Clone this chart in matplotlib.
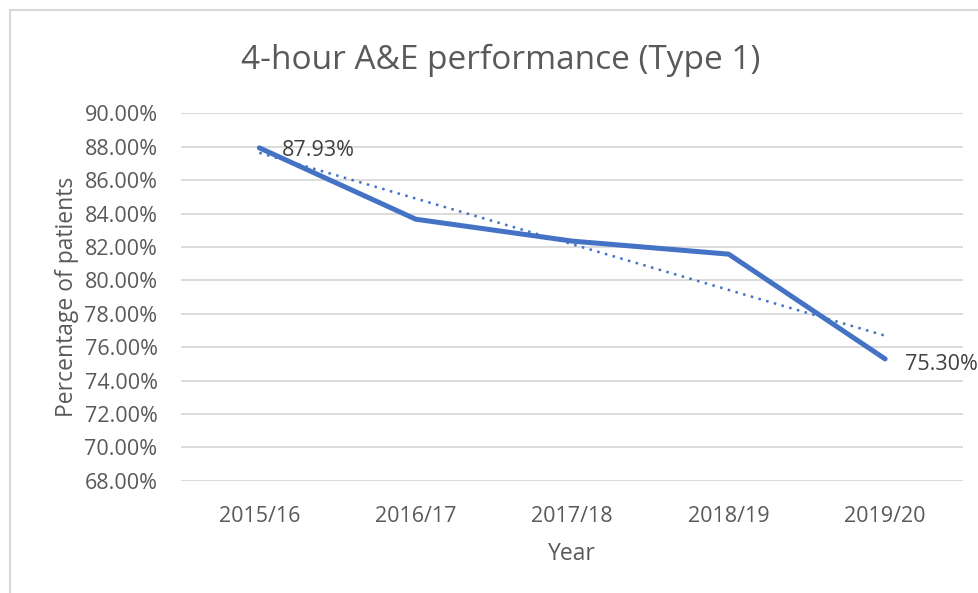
import numpy as np
import matplotlib
matplotlib.use("Agg")
import matplotlib.pyplot as plt
from matplotlib.patches import Rectangle
from matplotlib.ticker import PercentFormatter

# data
years = ["2015/16", "2016/17", "2017/18", "2018/19", "2019/20"]
performance = [87.93, 83.66, 82.35, 81.57, 75.30]
yticks = [68, 70, 72, 74, 76, 78, 80, 82, 84, 86, 88, 90]

blue = "#4472C4"
grey_txt = "#595959"
grid_col = "#D9D9D9"

plt.rcParams['font.family'] = ['Open Sans', 'DejaVu Sans']

fig = plt.figure(figsize=(9.79, 5.93), dpi=100)
ax = fig.add_axes([0.185, 0.189, 0.799, 0.620])

# chart border (cropped on right/bottom like the screenshot)
fig.patches.append(Rectangle((10/979, -0.05), 1.2, 1 - 10/593 + 0.05,
                             transform=fig.transFigure, fill=False,
                             edgecolor=grid_col, linewidth=1.5))

x = np.arange(len(years))
ax.plot(x, performance, color=blue, linewidth=3.6, solid_capstyle='round',
        solid_joinstyle='round', zorder=3)

# linear trendline
coef = np.polyfit(x, performance, 1)
ax.plot(x, np.polyval(coef, x), color=blue, linewidth=1.8,
        linestyle=(0, (1, 2.2)), zorder=2)

ax.annotate(f"{performance[0]:.2f}%", (x[0], performance[0]), xytext=(16, -2),
            textcoords="offset points", ha="left", va="center",
            fontsize=15.5, color="#404040")
ax.annotate(f"{performance[-1]:.2f}%", (x[-1], performance[-1]), xytext=(14, -4),
            textcoords="offset points", ha="left", va="center",
            fontsize=15.5, color="#404040", annotation_clip=False)

ax.set_xlim(-0.5, len(years) - 0.5)
ax.set_ylim(yticks[0], yticks[-1])
ax.set_yticks(yticks)
ax.yaxis.set_major_formatter(PercentFormatter(decimals=2))
ax.set_xticks(x)
ax.set_xticklabels(years)
ax.grid(axis='y', color=grid_col, linewidth=1.3)
ax.set_axisbelow(True)
for s in ax.spines.values():
    s.set_visible(False)
ax.tick_params(length=0, colors=grey_txt, labelsize=15.5)
ax.tick_params(axis='x', pad=18)
ax.tick_params(axis='y', pad=17)

ax.set_xlabel("Year", fontsize=16.5, color=grey_txt, labelpad=11)
ax.set_ylabel("Percentage of patients", fontsize=16.5, color=grey_txt, labelpad=4)
fig.text(0.511, 0.899, "4-hour A&E performance (Type 1)", ha="center", va="center",
         fontsize=24, color=grey_txt)

fig.savefig("out.png", dpi=100)
